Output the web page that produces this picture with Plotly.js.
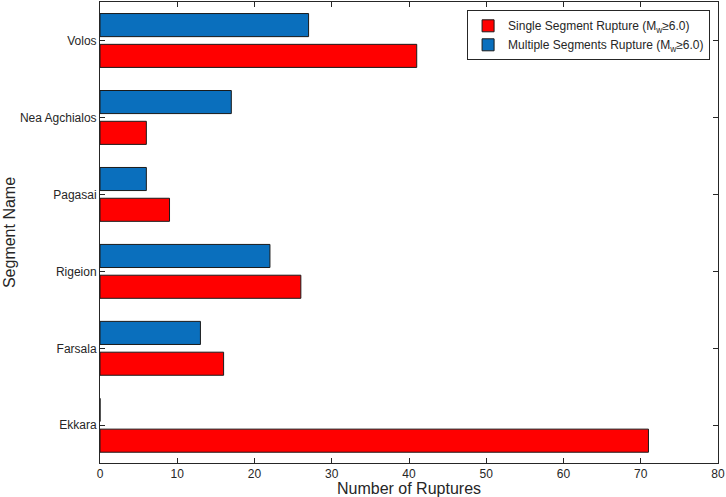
<!DOCTYPE html>
<html>
<head>
<meta charset="utf-8">
<script src="https://cdn.plot.ly/plotly-3.0.1.min.js"></script>
<style>html,body{margin:0;padding:0;background:#fff;}#chart{width:726px;height:497px;}</style>
</head>
<body>
<div id="chart"></div>
<script>
const segments = ["Ekkara", "Farsala", "Rigeion", "Pagasai", "Nea Agchialos", "Volos"];
const singleRupture = [71, 16, 26, 9, 6, 41];
const multipleRupture = [0, 13, 22, 6, 17, 27];
const xTicks = [0, 10, 20, 30, 40, 50, 60, 70, 80];

const font = {family: "Liberation Sans, Arial, sans-serif", color: "#262626"};

const traces = [
  {
    type: "bar", orientation: "h",
    name: "Single Segment Rupture (M<sub>w</sub>≥6.0)",
    y: segments, x: singleRupture,
    marker: {color: "#ff0000", line: {color: "#1a1a1a", width: 1}}
  },
  {
    type: "bar", orientation: "h",
    name: "Multiple Segments Rupture (M<sub>w</sub>≥6.0)",
    y: segments, x: multipleRupture,
    marker: {color: "#0a6fbd", line: {color: "#1a1a1a", width: 1}}
  }
];

const layout = {
  width: 726, height: 497,
  margin: {l: 99.5, r: 8, t: 1.5, b: 33.7, pad: 0},
  paper_bgcolor: "#fff", plot_bgcolor: "#fff",
  font: Object.assign({size: 12}, font),
  barmode: "group",
  bargap: 0.2,
  bargroupgap: 0.25,
  showlegend: true,
  legend: {
    x: 0.594, y: 0.982, xanchor: "left", yanchor: "top",
    bgcolor: "#fff", bordercolor: "#262626", borderwidth: 1,
    font: Object.assign({size: 12}, font),
    traceorder: "normal",
    tracegroupgap: 0,
    itemwidth: 30
  },
  xaxis: {
    range: [0, 80], tickvals: xTicks, ticktext: xTicks.map(String),
    ticks: "inside", ticklen: 5, tickcolor: "#262626",
    showline: true, linecolor: "#262626", linewidth: 1, mirror: "ticks",
    showgrid: false, zeroline: false,
    tickfont: Object.assign({size: 12}, font),
    title: {text: "Number of Ruptures", font: Object.assign({size: 16}, font)},
    automargin: false
  },
  yaxis: {
    type: "category",
    range: [-0.49, 5.5],
    ticks: "inside", ticklen: 5, tickcolor: "#262626",
    showline: true, linecolor: "#262626", linewidth: 1, mirror: "ticks",
    showgrid: false, zeroline: false,
    tickfont: Object.assign({size: 12}, font),
    title: {text: "Segment Name", font: Object.assign({size: 16}, font), standoff: 0},
    automargin: true
  }
};

Plotly.newPlot("chart", traces, layout, {displayModeBar: false, staticPlot: true});
</script>
</body>
</html>
